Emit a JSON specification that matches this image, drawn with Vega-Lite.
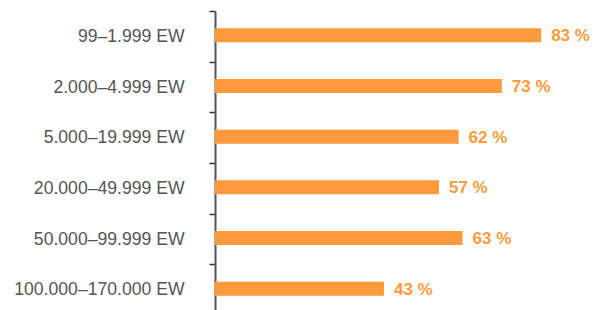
{
  "$schema": "https://vega.github.io/schema/vega-lite/v6.json",
  "autosize": {"type": "none"},
  "padding": {"left": 215, "top": 11, "right": 0, "bottom": 0},
  "width": 389,
  "height": 299,
  "background": "white",
  "config": {"view": {"stroke": null}},
  "data": {
    "values": [
      {"group": "99–1.999 EW", "value": 83, "label": "83 %"},
      {"group": "2.000–4.999 EW", "value": 73, "label": "73 %"},
      {"group": "5.000–19.999 EW", "value": 62, "label": "62 %"},
      {"group": "20.000–49.999 EW", "value": 57, "label": "57 %"},
      {"group": "50.000–99.999 EW", "value": 63, "label": "63 %"},
      {"group": "100.000–170.000 EW", "value": 43, "label": "43 %"}
    ]
  },
  "encoding": {
    "y": {
      "field": "group",
      "type": "nominal",
      "sort": null,
      "scale": {"range": [0, 304], "paddingInner": 0, "paddingOuter": 0},
      "axis": {
        "title": null,
        "tickBand": "extent",
        "domainColor": "#555555",
        "domainWidth": 2,
        "tickColor": "#333333",
        "tickWidth": 1.5,
        "tickSize": 6,
        "labelPadding": 25,
        "labelFont": "Liberation Sans",
        "labelFontSize": 17.6,
        "labelColor": "#555555",
        "labelLimit": 300
      }
    },
    "x": {
      "field": "value",
      "type": "quantitative",
      "scale": {"domain": [0, 99], "nice": false},
      "axis": null
    }
  },
  "layer": [
    {
      "mark": {"type": "bar", "color": "#ff9a3c", "size": 14, "yOffset": -1},
      "encoding": {}
    },
    {
      "mark": {
        "type": "text",
        "align": "left",
        "baseline": "middle",
        "dx": 10,
        "dy": 0,
        "font": "Liberation Sans",
        "fontSize": 17,
        "fontWeight": "bold",
        "color": "#ff9a3c"
      },
      "encoding": {"text": {"field": "label"}}
    }
  ]
}
